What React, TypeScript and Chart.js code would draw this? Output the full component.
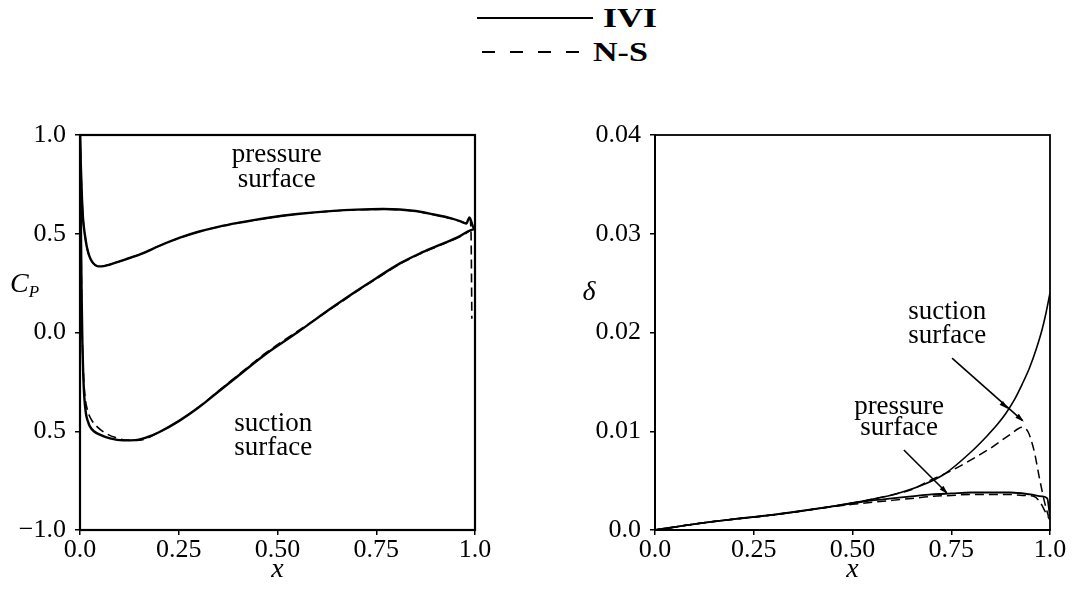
import React, { useEffect, useRef } from "react";
import Chart from "chart.js/auto";

const FONT = '"Liberation Serif", "Times New Roman", serif';

// ---------- axes ----------
const xTicks = [0, 0.25, 0.5, 0.75, 1];
const xTickLabels = ["0.0", "0.25", "0.50", "0.75", "1.0"];
const cpTicks = [-1, -0.5, 0, 0.5, 1];
const cpTickLabels = ["\u22121.0", "0.5", "0.0", "0.5", "1.0"];
const deltaTicks = [0, 0.01, 0.02, 0.03, 0.04];
const deltaTickLabels = ["0.0", "0.01", "0.02", "0.03", "0.04"];

// ---------- left panel: Cp ----------
const cpPressureX = [0, 0.002, 0.005, 0.008, 0.012, 0.017, 0.023, 0.03, 0.046, 0.06, 0.076, 0.1, 0.13, 0.16, 0.2, 0.253, 0.3, 0.35, 0.4, 0.473, 0.55, 0.641, 0.7, 0.768, 0.85, 0.895, 0.94, 0.962, 0.978, 0.986, 0.995, 1.0];
const cpPressureIVI = [1.0, 0.85, 0.68, 0.57, 0.5, 0.437, 0.39, 0.36, 0.335, 0.336, 0.344, 0.36, 0.38, 0.402, 0.438, 0.48, 0.51, 0.535, 0.555, 0.58, 0.6, 0.616, 0.622, 0.625, 0.615, 0.598, 0.578, 0.564, 0.552, 0.583, 0.535, 0.52];

const cpPressureNSX = [0, 0.002, 0.005, 0.008, 0.012, 0.017, 0.023, 0.03, 0.046, 0.06, 0.076, 0.1, 0.13, 0.16, 0.2, 0.253, 0.3, 0.35, 0.4, 0.473, 0.55, 0.641, 0.7, 0.768, 0.85, 0.895, 0.94, 0.962, 0.978, 0.987, 0.99, 0.992];
const cpPressureNS = [1.0, 0.85, 0.68, 0.57, 0.5, 0.437, 0.39, 0.36, 0.336, 0.337, 0.345, 0.36, 0.38, 0.402, 0.438, 0.48, 0.51, 0.535, 0.555, 0.579, 0.6, 0.615, 0.621, 0.624, 0.614, 0.597, 0.577, 0.563, 0.553, 0.575, 0.5, 0.07];

const cpSuctionX = [0, 0.002, 0.004, 0.006, 0.008, 0.011, 0.015, 0.02, 0.025, 0.035, 0.05, 0.076, 0.109, 0.14, 0.17, 0.2, 0.253, 0.3, 0.35, 0.4, 0.473, 0.55, 0.641, 0.7, 0.75, 0.81, 0.86, 0.9, 0.962, 0.98, 1.0];
const cpSuctionIVI = [1.0, 0.6, 0.2, -0.05, -0.2, -0.33, -0.41, -0.45, -0.475, -0.5, -0.517, -0.536, -0.546, -0.545, -0.53, -0.505, -0.445, -0.38, -0.3, -0.22, -0.105, 0.0, 0.13, 0.21, 0.275, 0.35, 0.4, 0.435, 0.488, 0.51, 0.525];

const cpSuctionNSX = [0, 0.002, 0.004, 0.006, 0.009, 0.013, 0.02, 0.03, 0.045, 0.065, 0.09, 0.12, 0.15, 0.2, 0.253, 0.3, 0.35, 0.4, 0.473, 0.55, 0.641, 0.7, 0.75, 0.81, 0.86, 0.9, 0.962, 0.98, 0.99];
const cpSuctionNS = [1.0, 0.6, 0.2, -0.05, -0.22, -0.33, -0.4, -0.445, -0.48, -0.51, -0.532, -0.545, -0.545, -0.505, -0.445, -0.378, -0.297, -0.216, -0.1, 0.005, 0.127, 0.207, 0.272, 0.347, 0.397, 0.432, 0.486, 0.506, 0.52];

// ---------- right panel: delta ----------
const deltaSuctionX = [0, 0.05, 0.1, 0.142, 0.2, 0.262, 0.35, 0.45, 0.536, 0.614, 0.68, 0.734, 0.8, 0.84, 0.867, 0.888, 0.91, 0.93, 0.948, 0.965, 0.98, 0.99, 1.0];
const deltaSuctionIVI = [0, 0.0003, 0.0006, 0.00084, 0.0011, 0.00135, 0.0018, 0.0024, 0.003, 0.0037, 0.0046, 0.0057, 0.0079, 0.0095, 0.0107, 0.0118, 0.0132, 0.0148, 0.0164, 0.0183, 0.0203, 0.022, 0.024];

const deltaSuctionNSX = [0, 0.05, 0.1, 0.142, 0.2, 0.262, 0.35, 0.45, 0.536, 0.614, 0.65, 0.7, 0.75, 0.8, 0.85, 0.9, 0.93, 0.945, 0.953, 0.961, 0.974, 0.987, 0.996];
const deltaSuctionNS = [0, 0.0003, 0.0006, 0.00084, 0.0011, 0.00135, 0.0018, 0.0024, 0.003, 0.0037, 0.0041, 0.0051, 0.006, 0.0071, 0.0083, 0.0097, 0.0104, 0.0099, 0.009, 0.0078, 0.0051, 0.0027, 0.0014];

const deltaPressureX = [0, 0.1, 0.2, 0.3, 0.4, 0.5, 0.55, 0.6, 0.65, 0.7, 0.75, 0.8, 0.85, 0.9, 0.95, 0.98, 0.993, 1.0];
const deltaPressureIVI = [0, 0.0006, 0.0011, 0.00155, 0.0021, 0.0027, 0.003, 0.0032, 0.0034, 0.0036, 0.0037, 0.0038, 0.0038, 0.0038, 0.0036, 0.0034, 0.0032, 0.0013];

const deltaPressureNSX = [0, 0.1, 0.2, 0.3, 0.4, 0.5, 0.55, 0.6, 0.65, 0.7, 0.75, 0.8, 0.85, 0.9, 0.93, 0.96, 0.975, 0.99, 1.0];
const deltaPressureNS = [0, 0.0006, 0.0011, 0.00155, 0.0021, 0.0026, 0.0028, 0.003, 0.0032, 0.0034, 0.0035, 0.0036, 0.0036, 0.0036, 0.0035, 0.0034, 0.0028, 0.0017, 0.001];

// ---------- annotations (data coordinates) ----------
const cpNotes = [
  { text: "pressure", x: 0.498, y: 0.9 },
  { text: "surface", x: 0.498, y: 0.772 },
  { text: "suction", x: 0.489, y: -0.461 },
  { text: "surface", x: 0.489, y: -0.583 },
];
const deltaNotes = [
  { text: "suction", x: 0.74, y: 0.0221 },
  { text: "surface", x: 0.74, y: 0.0197 },
  { text: "pressure", x: 0.618, y: 0.0125 },
  { text: "surface", x: 0.618, y: 0.0103 },
];
const deltaArrows = [
  { from: [0.752, 0.0174], to: [0.93, 0.0111], heads: [[0.89, 0.0124], [0.93, 0.0111]] },
  { from: [0.63, 0.0081], to: [0.738, 0.0038], heads: [[0.738, 0.0038]] },
];

function pts(xs: number[], ys: number[]) {
  return xs.map((x, i) => ({ x, y: ys[i] }));
}

function labeler(ticks: number[], labels: string[]) {
  return (v: any) => {
    const i = ticks.findIndex((t) => Math.abs(t - Number(v)) < 1e-9);
    return i >= 0 ? labels[i] : "";
  };
}

const boxPlugin = {
  id: "box",
  afterDatasetsDraw(chart: any, _a: any, opts: any) {
    const { ctx, chartArea: a } = chart;
    ctx.save();
    ctx.strokeStyle = "#000";
    ctx.lineWidth = opts.width || 2;
    ctx.strokeRect(a.left, a.top, a.right - a.left, a.bottom - a.top);
    ctx.restore();
  },
};

const notesPlugin = {
  id: "notes",
  afterDraw(chart: any, _a: any, opts: any) {
    const { ctx, chartArea: a, scales } = chart;
    const xs = scales.x;
    const ys = scales.y;
    ctx.save();
    ctx.fillStyle = "#000";
    ctx.strokeStyle = "#000";
    ctx.font = `27px ${FONT}`;
    ctx.textAlign = "center";
    ctx.textBaseline = "middle";
    (opts.texts || []).forEach((t: any) => {
      ctx.fillText(t.text, xs.getPixelForValue(t.x), ys.getPixelForValue(t.y));
    });
    (opts.arrows || []).forEach((ar: any) => {
      const x0 = xs.getPixelForValue(ar.from[0]);
      const y0 = ys.getPixelForValue(ar.from[1]);
      const x1 = xs.getPixelForValue(ar.to[0]);
      const y1 = ys.getPixelForValue(ar.to[1]);
      ctx.lineWidth = 1.6;
      ctx.beginPath();
      ctx.moveTo(x0, y0);
      ctx.lineTo(x1, y1);
      ctx.stroke();
      const len = Math.hypot(x1 - x0, y1 - y0);
      const dx = (x1 - x0) / len;
      const dy = (y1 - y0) / len;
      ar.heads.forEach((h: number[]) => {
        const hx = xs.getPixelForValue(h[0]);
        const hy = ys.getPixelForValue(h[1]);
        ctx.beginPath();
        ctx.moveTo(hx + dx * 2, hy + dy * 2);
        ctx.lineTo(hx - dx * 7 - dy * 2.6, hy - dy * 7 + dx * 2.6);
        ctx.lineTo(hx - dx * 7 + dy * 2.6, hy - dy * 7 - dx * 2.6);
        ctx.closePath();
        ctx.fill();
      });
    });
    // x-axis title
    ctx.font = `italic 28px ${FONT}`;
    ctx.fillText("x", (a.left + a.right) / 2, a.bottom + 40);
    // y-axis title
    if (opts.yTitle === "cp") {
      ctx.textAlign = "left";
      ctx.font = `italic 28px ${FONT}`;
      const cx = a.left - 70;
      const cy = ys.getPixelForValue(0.24);
      ctx.fillText("C", cx, cy);
      const w = ctx.measureText("C").width;
      ctx.font = `italic 17px ${FONT}`;
      ctx.fillText("P", cx + w, cy + 7);
    } else if (opts.yTitle === "delta") {
      ctx.font = `italic 28px ${FONT}`;
      ctx.textAlign = "center";
      ctx.fillText("\u03b4", a.left - 66, ys.getPixelForValue(0.024));
    }
    ctx.restore();
  },
};

function line(data: any[], width: number, dashed: boolean) {
  return {
    data,
    showLine: true,
    borderColor: "#000",
    backgroundColor: "#000",
    borderWidth: width,
    borderDash: dashed ? [9, 5] : [],
    pointRadius: 0,
    cubicInterpolationMode: "monotone",
    fill: false,
  };
}

function axisX(afterFitH: number) {
  return {
    type: "linear",
    min: 0,
    max: 1,
    afterBuildTicks: (s: any) => {
      s.ticks = xTicks.map((v) => ({ value: v }));
    },
    afterFit: (s: any) => {
      s.height = afterFitH;
    },
    ticks: {
      callback: labeler(xTicks, xTickLabels),
      font: { family: FONT, size: 26 },
      color: "#000",
      padding: 0,
      maxRotation: 0,
      autoSkip: false,
    },
    grid: { drawOnChartArea: false, drawTicks: true, tickLength: 5, color: "#000", lineWidth: 1.5 },
    border: { display: true, color: "#000", width: 2 },
  };
}

function axisY(min: number, max: number, ticks: number[], labels: string[], width: number) {
  return {
    type: "linear",
    min,
    max,
    afterBuildTicks: (s: any) => {
      s.ticks = ticks.map((v) => ({ value: v }));
    },
    afterFit: (s: any) => {
      s.width = width;
    },
    ticks: {
      callback: labeler(ticks, labels),
      font: { family: FONT, size: 26 },
      color: "#000",
      padding: 9,
      autoSkip: false,
    },
    grid: { drawOnChartArea: false, drawTicks: true, tickLength: 5, color: "#000", lineWidth: 1.5 },
    border: { display: true, color: "#000", width: 2 },
  };
}

function useChart(ref: any, config: any) {
  useEffect(() => {
    const c = new Chart(ref.current, config);
    return () => c.destroy();
  }, []);
}

export default function App() {
  const leftRef = useRef<HTMLCanvasElement>(null);
  const rightRef = useRef<HTMLCanvasElement>(null);

  useChart(leftRef, {
    type: "scatter",
    data: {
      datasets: [
        line(pts(cpPressureX, cpPressureIVI), 2.4, false),
        line(pts(cpSuctionX, cpSuctionIVI), 2.4, false),
        line(pts(cpPressureNSX, cpPressureNS), 1.6, true),
        line(pts(cpSuctionNSX, cpSuctionNS), 1.6, true),
      ],
    },
    options: {
      responsive: false,
      animation: false,
      events: [],
      layout: { padding: { top: 35, right: 65, left: 0, bottom: 0 } },
      plugins: {
        legend: { display: false },
        tooltip: { enabled: false },
        box: { width: 2.2 },
        notes: { texts: cpNotes, arrows: [], yTitle: "cp" },
      },
      scales: {
        x: axisX(63),
        y: axisY(-1, 1, cpTicks, cpTickLabels, 80),
      },
    },
    plugins: [boxPlugin, notesPlugin],
  });

  useChart(rightRef, {
    type: "scatter",
    data: {
      datasets: [
        line(pts(deltaSuctionX, deltaSuctionIVI), 1.6, false),
        line(pts(deltaPressureX, deltaPressureIVI), 1.8, false),
        line(pts(deltaSuctionNSX, deltaSuctionNS), 1.5, true),
        line(pts(deltaPressureNSX, deltaPressureNS), 1.5, true),
      ],
    },
    options: {
      responsive: false,
      animation: false,
      events: [],
      layout: { padding: { top: 35, right: 28, left: 0, bottom: 0 } },
      plugins: {
        legend: { display: false },
        tooltip: { enabled: false },
        box: { width: 1.8 },
        notes: { texts: deltaNotes, arrows: deltaArrows, yTitle: "delta" },
      },
      scales: {
        x: axisX(63),
        y: axisY(0, 0.04, deltaTicks, deltaTickLabels, 115),
      },
    },
    plugins: [boxPlugin, notesPlugin],
  });

  const legendText: React.CSSProperties = {
    position: "absolute",
    fontFamily: FONT,
    fontWeight: "bold",
    fontSize: 27,
    lineHeight: "30px",
    color: "#000",
    transformOrigin: "left center",
    whiteSpace: "nowrap",
  };

  return (
    <div style={{ position: "absolute", left: 0, top: 0, width: 1078, height: 593, background: "#fff", overflow: "hidden" }}>
      <div style={{ position: "absolute", left: 477, top: 17, width: 116, height: 2, background: "#000" }} />
      <div style={{ ...legendText, left: 603, top: 3, transform: "scaleX(1.33)" }}>IVI</div>
      <div
        style={{
          position: "absolute",
          left: 482,
          top: 51,
          width: 98,
          height: 2,
          background: "repeating-linear-gradient(to right, #000 0px, #000 13px, transparent 13px, transparent 28px)",
        }}
      />
      <div style={{ ...legendText, left: 593, top: 37, transform: "scaleX(1.26)" }}>N-S</div>
      <canvas ref={leftRef} width={540} height={493} style={{ position: "absolute", left: 0, top: 100 }} />
      <canvas ref={rightRef} width={538} height={493} style={{ position: "absolute", left: 540, top: 100 }} />
    </div>
  );
}
